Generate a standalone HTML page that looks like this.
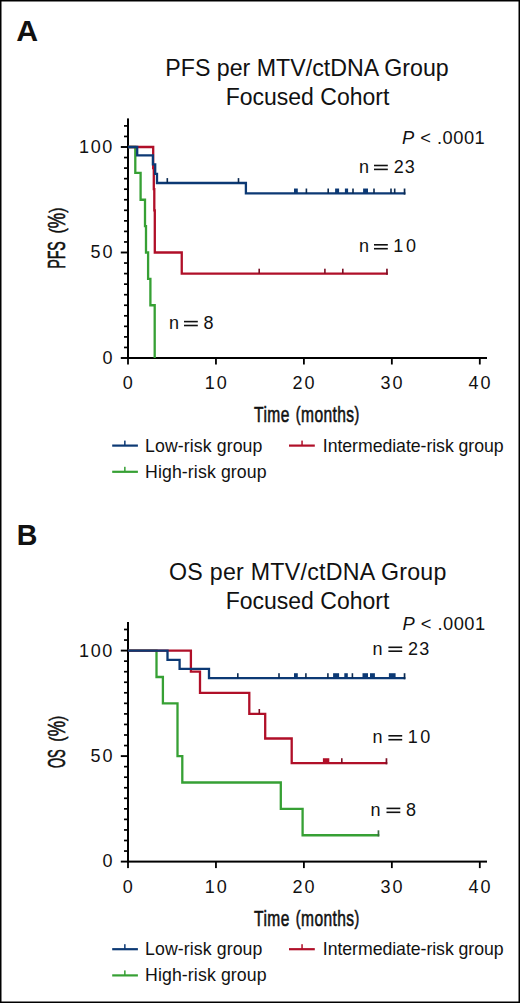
<!DOCTYPE html>
<html><head><meta charset="utf-8"><style>
html,body{margin:0;padding:0;background:#fff;}
body{width:520px;height:1003px;overflow:hidden;position:relative;}
svg{position:absolute;left:0;top:0;}
svg text{font-family:'Liberation Sans', sans-serif;fill:#111;}
</style></head><body>
<svg width="520" height="1003" viewBox="0 0 520 1003">
<rect x="0" y="0" width="520" height="1003" fill="#fff"/>
<rect x="127.00" y="118.40" width="2" height="240.60" fill="#000"/>
<rect x="127.00" y="357.00" width="360.00" height="2" fill="#000"/>
<rect x="120.8" y="357.05" width="7" height="1.9" fill="#000"/>
<rect x="124.0" y="346.60" width="3.5" height="1.7" fill="#000"/>
<rect x="124.0" y="336.05" width="3.5" height="1.7" fill="#000"/>
<rect x="124.0" y="325.50" width="3.5" height="1.7" fill="#000"/>
<rect x="124.0" y="314.95" width="3.5" height="1.7" fill="#000"/>
<rect x="124.0" y="304.40" width="3.5" height="1.7" fill="#000"/>
<rect x="124.0" y="293.85" width="3.5" height="1.7" fill="#000"/>
<rect x="124.0" y="283.30" width="3.5" height="1.7" fill="#000"/>
<rect x="124.0" y="272.75" width="3.5" height="1.7" fill="#000"/>
<rect x="124.0" y="262.20" width="3.5" height="1.7" fill="#000"/>
<rect x="120.8" y="251.55" width="7" height="1.9" fill="#000"/>
<rect x="124.0" y="241.10" width="3.5" height="1.7" fill="#000"/>
<rect x="124.0" y="230.55" width="3.5" height="1.7" fill="#000"/>
<rect x="124.0" y="220.00" width="3.5" height="1.7" fill="#000"/>
<rect x="124.0" y="209.45" width="3.5" height="1.7" fill="#000"/>
<rect x="124.0" y="198.90" width="3.5" height="1.7" fill="#000"/>
<rect x="124.0" y="188.35" width="3.5" height="1.7" fill="#000"/>
<rect x="124.0" y="177.80" width="3.5" height="1.7" fill="#000"/>
<rect x="124.0" y="167.25" width="3.5" height="1.7" fill="#000"/>
<rect x="124.0" y="156.70" width="3.5" height="1.7" fill="#000"/>
<rect x="120.8" y="146.05" width="7" height="1.9" fill="#000"/>
<rect x="124.0" y="135.60" width="3.5" height="1.7" fill="#000"/>
<rect x="124.0" y="125.05" width="3.5" height="1.7" fill="#000"/>
<rect x="127.10" y="358.00" width="1.8" height="6.50" fill="#000"/>
<rect x="215.05" y="358.00" width="1.8" height="6.50" fill="#000"/>
<rect x="303.00" y="358.00" width="1.8" height="6.50" fill="#000"/>
<rect x="390.95" y="358.00" width="1.8" height="6.50" fill="#000"/>
<rect x="478.90" y="358.00" width="1.8" height="6.50" fill="#000"/>
<path d="M128.00,147.00 H135.30 V172.80 H140.60 V199.75 H145.00 V226.12 H146.00 V252.50 H148.10 V278.88 H150.40 V305.25 H154.70 V358.00" fill="none" stroke="#36a034" stroke-width="2.3" stroke-linejoin="miter"/>
<path d="M128.00,147.00 H153.20 V168.10 H153.80 V189.20 H154.30 V210.30 H154.80 V252.50 H181.75 V273.60 H387.80 V273.60" fill="none" stroke="#b00f28" stroke-width="2.3" stroke-linejoin="miter"/>
<rect x="258.40" y="268.70" width="1.6" height="4.90" fill="#7a1025"/>
<rect x="324.10" y="268.70" width="1.6" height="4.90" fill="#7a1025"/>
<rect x="342.00" y="268.70" width="1.6" height="4.90" fill="#7a1025"/>
<rect x="386.10" y="268.70" width="1.7" height="6.05" fill="#7a1025"/>
<path d="M128.00,147.00 H137.20 V155.40 H152.90 V164.40 H155.20 V173.90 H157.00 V183.00 H245.90 V193.42 H405.40 V193.42" fill="none" stroke="#0c3974" stroke-width="2.3" stroke-linejoin="miter"/>
<rect x="166.50" y="178.10" width="1.6" height="4.90" fill="#0a2a52"/>
<rect x="237.70" y="178.10" width="1.6" height="4.90" fill="#0a2a52"/>
<rect x="294.00" y="188.52" width="3.80" height="4.90" fill="#0c3974"/>
<rect x="305.60" y="188.52" width="1.6" height="4.90" fill="#0a2a52"/>
<rect x="327.40" y="188.52" width="1.6" height="4.90" fill="#0a2a52"/>
<rect x="335.10" y="188.52" width="4.00" height="4.90" fill="#0c3974"/>
<rect x="344.90" y="188.52" width="3.20" height="4.90" fill="#0c3974"/>
<rect x="352.20" y="188.52" width="1.6" height="4.90" fill="#0a2a52"/>
<rect x="363.10" y="188.52" width="4.90" height="4.90" fill="#0c3974"/>
<rect x="373.20" y="188.52" width="1.6" height="4.90" fill="#0a2a52"/>
<rect x="390.20" y="188.52" width="1.6" height="4.90" fill="#0a2a52"/>
<rect x="393.90" y="188.52" width="1.6" height="4.90" fill="#0a2a52"/>
<rect x="403.70" y="188.52" width="1.7" height="6.05" fill="#0a2a52"/>
<rect x="127.00" y="622.00" width="2" height="240.60" fill="#000"/>
<rect x="127.00" y="860.60" width="360.00" height="2" fill="#000"/>
<rect x="120.8" y="860.65" width="7" height="1.9" fill="#000"/>
<rect x="124.0" y="850.20" width="3.5" height="1.7" fill="#000"/>
<rect x="124.0" y="839.65" width="3.5" height="1.7" fill="#000"/>
<rect x="124.0" y="829.10" width="3.5" height="1.7" fill="#000"/>
<rect x="124.0" y="818.55" width="3.5" height="1.7" fill="#000"/>
<rect x="124.0" y="808.00" width="3.5" height="1.7" fill="#000"/>
<rect x="124.0" y="797.45" width="3.5" height="1.7" fill="#000"/>
<rect x="124.0" y="786.90" width="3.5" height="1.7" fill="#000"/>
<rect x="124.0" y="776.35" width="3.5" height="1.7" fill="#000"/>
<rect x="124.0" y="765.80" width="3.5" height="1.7" fill="#000"/>
<rect x="120.8" y="755.15" width="7" height="1.9" fill="#000"/>
<rect x="124.0" y="744.70" width="3.5" height="1.7" fill="#000"/>
<rect x="124.0" y="734.15" width="3.5" height="1.7" fill="#000"/>
<rect x="124.0" y="723.60" width="3.5" height="1.7" fill="#000"/>
<rect x="124.0" y="713.05" width="3.5" height="1.7" fill="#000"/>
<rect x="124.0" y="702.50" width="3.5" height="1.7" fill="#000"/>
<rect x="124.0" y="691.95" width="3.5" height="1.7" fill="#000"/>
<rect x="124.0" y="681.40" width="3.5" height="1.7" fill="#000"/>
<rect x="124.0" y="670.85" width="3.5" height="1.7" fill="#000"/>
<rect x="124.0" y="660.30" width="3.5" height="1.7" fill="#000"/>
<rect x="120.8" y="649.65" width="7" height="1.9" fill="#000"/>
<rect x="124.0" y="639.20" width="3.5" height="1.7" fill="#000"/>
<rect x="124.0" y="628.65" width="3.5" height="1.7" fill="#000"/>
<rect x="127.10" y="861.60" width="1.8" height="6.50" fill="#000"/>
<rect x="215.05" y="861.60" width="1.8" height="6.50" fill="#000"/>
<rect x="303.00" y="861.60" width="1.8" height="6.50" fill="#000"/>
<rect x="390.95" y="861.60" width="1.8" height="6.50" fill="#000"/>
<rect x="478.90" y="861.60" width="1.8" height="6.50" fill="#000"/>
<path d="M128.00,650.60 H156.50 V676.98 H162.90 V703.35 H177.50 V756.10 H182.30 V782.48 H280.80 V808.85 H302.60 V835.23 H379.30 V835.23" fill="none" stroke="#36a034" stroke-width="2.3" stroke-linejoin="miter"/>
<rect x="377.60" y="830.33" width="1.7" height="6.05" fill="#3a6a40"/>
<path d="M128.00,650.60 H190.90 V671.70 H200.00 V692.80 H249.30 V713.90 H265.20 V738.52 H291.70 V763.13 H387.30 V763.13" fill="none" stroke="#b00f28" stroke-width="2.3" stroke-linejoin="miter"/>
<rect x="258.50" y="709.00" width="1.6" height="4.90" fill="#7a1025"/>
<rect x="322.90" y="758.23" width="6.40" height="4.90" fill="#b00f28"/>
<rect x="341.00" y="758.23" width="1.6" height="4.90" fill="#7a1025"/>
<rect x="385.60" y="758.23" width="1.7" height="6.05" fill="#7a1025"/>
<path d="M128.00,650.60 H167.50 V659.78 H179.60 V668.96 H209.00 V678.11 H405.40 V678.11" fill="none" stroke="#0c3974" stroke-width="2.3" stroke-linejoin="miter"/>
<rect x="237.00" y="673.21" width="1.6" height="4.90" fill="#0a2a52"/>
<rect x="278.20" y="673.21" width="1.6" height="4.90" fill="#0a2a52"/>
<rect x="294.00" y="673.21" width="3.80" height="4.90" fill="#0c3974"/>
<rect x="305.10" y="673.21" width="1.6" height="4.90" fill="#0a2a52"/>
<rect x="327.10" y="673.21" width="1.6" height="4.90" fill="#0a2a52"/>
<rect x="333.10" y="673.21" width="6.00" height="4.90" fill="#0c3974"/>
<rect x="344.30" y="673.21" width="3.50" height="4.90" fill="#0c3974"/>
<rect x="351.60" y="673.21" width="1.6" height="4.90" fill="#0a2a52"/>
<rect x="362.50" y="673.21" width="5.50" height="4.90" fill="#0c3974"/>
<rect x="370.00" y="673.21" width="4.90" height="4.90" fill="#0c3974"/>
<rect x="388.90" y="673.21" width="6.70" height="4.90" fill="#0c3974"/>
<rect x="403.70" y="673.21" width="1.7" height="6.05" fill="#0a2a52"/>
<text transform="translate(16.2,40.90) scale(1.06,1)" font-size="28.6" font-weight="bold" fill="#000">A</text>
<text x="307.00" y="76.40" font-size="23.2" text-anchor="middle">PFS per MTV/ctDNA Group</text>
<text x="307.50" y="105.20" font-size="23.0" text-anchor="middle">Focused Cohort</text>
<text x="402.00" y="143.60" font-size="18.3" letter-spacing="0.5"><tspan font-style="italic">P</tspan> &lt; .0001</text>
<text x="358.91" y="172.90" font-size="18">n</text>
<rect x="374.00" y="164.70" width="13.8" height="1.6" fill="#111"/>
<rect x="374.00" y="168.60" width="13.8" height="1.6" fill="#111"/>
<text x="393.70" y="172.90" font-size="18" letter-spacing="1.1">23</text>
<text x="358.91" y="252.20" font-size="18">n</text>
<rect x="374.00" y="244.00" width="13.8" height="1.6" fill="#111"/>
<rect x="374.00" y="247.90" width="13.8" height="1.6" fill="#111"/>
<text x="393.34" y="252.20" font-size="18" letter-spacing="2.6">10</text>
<text x="168.91" y="329.00" font-size="18">n</text>
<rect x="184.00" y="320.80" width="13.8" height="1.6" fill="#111"/>
<rect x="184.00" y="324.70" width="13.8" height="1.6" fill="#111"/>
<text x="203.55" y="329.00" font-size="18" letter-spacing="1.1">8</text>
<text x="114.10" y="152.90" font-size="18" letter-spacing="1.7" text-anchor="end">100</text>
<text x="114.50" y="258.30" font-size="18" letter-spacing="2.0" text-anchor="end">50</text>
<text x="114.60" y="363.70" font-size="18" letter-spacing="2.0" text-anchor="end">0</text>
<text x="128.70" y="389.30" font-size="18" letter-spacing="2.0" text-anchor="middle">0</text>
<text x="216.65" y="389.30" font-size="18" letter-spacing="2.0" text-anchor="middle">10</text>
<text x="304.60" y="389.30" font-size="18" letter-spacing="2.0" text-anchor="middle">20</text>
<text x="392.55" y="389.30" font-size="18" letter-spacing="2.0" text-anchor="middle">30</text>
<text x="480.50" y="389.30" font-size="18" letter-spacing="2.0" text-anchor="middle">40</text>
<text transform="translate(306.9,422.20) scale(0.68,1)" font-size="22.9" stroke="#111" stroke-width="0.6" letter-spacing="0.6" word-spacing="2.0" text-anchor="middle">Time <tspan font-size="21.0" dy="-0.9">(</tspan><tspan dy="0.9">months</tspan><tspan font-size="21.0" dy="-0.9">)</tspan></text>
<text transform="translate(65.0,255.00) rotate(-90) scale(0.62,1)" font-size="23" stroke="#111" stroke-width="0.6" text-anchor="middle">PFS</text>
<text transform="translate(65.0,220.55) rotate(-90) scale(0.755,1)" font-size="23" stroke="#111" stroke-width="0.6" text-anchor="middle"><tspan font-size="21.0" dy="-0.9">(</tspan><tspan dy="0.9">%</tspan><tspan font-size="21.0" dy="-0.9">)</tspan></text>
<rect x="112.2" y="444.50" width="25.7" height="2.2" fill="#0c3974"/>
<rect x="124.1" y="440.60" width="1.5" height="5" fill="#0c3974"/>
<rect x="289.0" y="444.50" width="25.8" height="2.2" fill="#b00f28"/>
<rect x="301.3" y="440.60" width="1.5" height="5" fill="#b00f28"/>
<rect x="112.2" y="470.70" width="25.7" height="2.2" fill="#36a034"/>
<rect x="124.1" y="466.80" width="1.5" height="5" fill="#36a034"/>
<text x="145.00" y="451.60" font-size="17.7" textLength="117.4" lengthAdjust="spacing">Low-risk group</text>
<text x="322.80" y="451.60" font-size="17.7" textLength="180.8" lengthAdjust="spacing">Intermediate-risk group</text>
<text x="145.00" y="477.60" font-size="17.7" textLength="121.6" lengthAdjust="spacing">High-risk group</text>
<text transform="translate(16.7,544.50) scale(1.0,1)" font-size="28.6" font-weight="bold" fill="#000">B</text>
<text x="307.70" y="580.00" font-size="23.2" text-anchor="middle" textLength="277.4" lengthAdjust="spacing">OS per MTV/ctDNA Group</text>
<text x="307.50" y="608.80" font-size="23.0" text-anchor="middle">Focused Cohort</text>
<text x="402.40" y="630.30" font-size="18.3" letter-spacing="0.5"><tspan font-style="italic">P</tspan> &lt; .0001</text>
<text x="372.51" y="654.70" font-size="18">n</text>
<rect x="388.40" y="646.50" width="13.8" height="1.6" fill="#111"/>
<rect x="388.40" y="650.40" width="13.8" height="1.6" fill="#111"/>
<text x="408.10" y="654.70" font-size="18" letter-spacing="1.1">23</text>
<text x="372.51" y="743.20" font-size="18">n</text>
<rect x="388.40" y="735.00" width="13.8" height="1.6" fill="#111"/>
<rect x="388.40" y="738.90" width="13.8" height="1.6" fill="#111"/>
<text x="407.74" y="743.20" font-size="18" letter-spacing="2.6">10</text>
<text x="370.61" y="815.80" font-size="18">n</text>
<rect x="386.50" y="807.60" width="13.8" height="1.6" fill="#111"/>
<rect x="386.50" y="811.50" width="13.8" height="1.6" fill="#111"/>
<text x="406.05" y="815.80" font-size="18" letter-spacing="1.1">8</text>
<text x="114.10" y="656.50" font-size="18" letter-spacing="1.7" text-anchor="end">100</text>
<text x="114.50" y="761.90" font-size="18" letter-spacing="2.0" text-anchor="end">50</text>
<text x="114.60" y="867.30" font-size="18" letter-spacing="2.0" text-anchor="end">0</text>
<text x="128.70" y="892.90" font-size="18" letter-spacing="2.0" text-anchor="middle">0</text>
<text x="216.65" y="892.90" font-size="18" letter-spacing="2.0" text-anchor="middle">10</text>
<text x="304.60" y="892.90" font-size="18" letter-spacing="2.0" text-anchor="middle">20</text>
<text x="392.55" y="892.90" font-size="18" letter-spacing="2.0" text-anchor="middle">30</text>
<text x="480.50" y="892.90" font-size="18" letter-spacing="2.0" text-anchor="middle">40</text>
<text transform="translate(306.9,925.80) scale(0.68,1)" font-size="22.9" stroke="#111" stroke-width="0.6" letter-spacing="0.6" word-spacing="2.0" text-anchor="middle">Time <tspan font-size="21.0" dy="-0.9">(</tspan><tspan dy="0.9">months</tspan><tspan font-size="21.0" dy="-0.9">)</tspan></text>
<text transform="translate(65.0,758.65) rotate(-90) scale(0.567,1)" font-size="23" stroke="#111" stroke-width="0.6" text-anchor="middle">OS</text>
<text transform="translate(65.0,728.65) rotate(-90) scale(0.755,1)" font-size="23" stroke="#111" stroke-width="0.6" text-anchor="middle"><tspan font-size="21.0" dy="-0.9">(</tspan><tspan dy="0.9">%</tspan><tspan font-size="21.0" dy="-0.9">)</tspan></text>
<rect x="112.2" y="948.10" width="25.7" height="2.2" fill="#0c3974"/>
<rect x="124.1" y="944.20" width="1.5" height="5" fill="#0c3974"/>
<rect x="289.0" y="948.10" width="25.8" height="2.2" fill="#b00f28"/>
<rect x="301.3" y="944.20" width="1.5" height="5" fill="#b00f28"/>
<rect x="112.2" y="974.30" width="25.7" height="2.2" fill="#36a034"/>
<rect x="124.1" y="970.40" width="1.5" height="5" fill="#36a034"/>
<text x="145.00" y="955.20" font-size="17.7" textLength="117.4" lengthAdjust="spacing">Low-risk group</text>
<text x="322.80" y="955.20" font-size="17.7" textLength="180.8" lengthAdjust="spacing">Intermediate-risk group</text>
<text x="145.00" y="981.20" font-size="17.7" textLength="121.6" lengthAdjust="spacing">High-risk group</text>
<rect x="0.75" y="0.75" width="518.5" height="1001.5" fill="none" stroke="#000" stroke-width="1.5"/>
</svg>
</body></html>
